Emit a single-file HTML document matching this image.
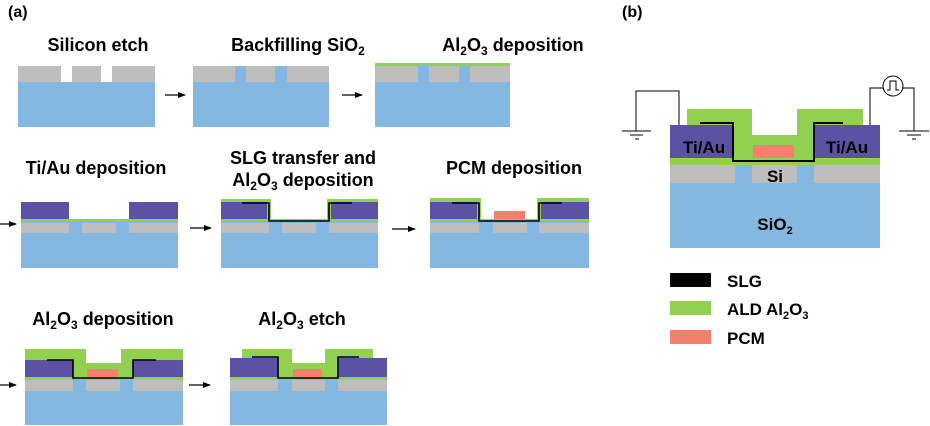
<!DOCTYPE html>
<html><head><meta charset="utf-8"><style>
html,body{margin:0;padding:0;background:#fff}
svg{display:block}
text{font-family:"Liberation Sans",Arial,sans-serif;font-weight:bold;fill:#000}
</style></head><body>
<svg width="930" height="426" viewBox="0 0 930 426" xmlns="http://www.w3.org/2000/svg">
<defs><marker id="ar" markerWidth="8" markerHeight="6" refX="7" refY="3" orient="auto" markerUnits="userSpaceOnUse"><path d="M0,0 L8,3 L0,6 z" fill="#000"/></marker></defs>
<g font-size="18">
<text x="8" y="17" font-size="16">(a)</text>
<text x="622" y="17" font-size="16">(b)</text>
<text x="98" y="51" text-anchor="middle">Silicon etch</text>
<text x="298" y="51" text-anchor="middle">Backfilling SiO<tspan font-size="12" dy="4">2</tspan></text>
<text x="513" y="51" text-anchor="middle">Al<tspan font-size="12" dy="4">2</tspan><tspan dy="-4">O</tspan><tspan font-size="12" dy="4">3</tspan><tspan dy="-4"> deposition</tspan></text>
<text x="96" y="174" text-anchor="middle">Ti/Au deposition</text>
<text x="303" y="164" text-anchor="middle">SLG transfer and</text>
<text x="303" y="186" text-anchor="middle">Al<tspan font-size="12" dy="4">2</tspan><tspan dy="-4">O</tspan><tspan font-size="12" dy="4">3</tspan><tspan dy="-4"> deposition</tspan></text>
<text x="514" y="174" text-anchor="middle">PCM deposition</text>
<text x="103" y="325" text-anchor="middle">Al<tspan font-size="12" dy="4">2</tspan><tspan dy="-4">O</tspan><tspan font-size="12" dy="4">3</tspan><tspan dy="-4"> deposition</tspan></text>
<text x="302" y="325" text-anchor="middle">Al<tspan font-size="12" dy="4">2</tspan><tspan dy="-4">O</tspan><tspan font-size="12" dy="4">3</tspan><tspan dy="-4"> etch</tspan></text>
</g>
<g stroke="#000" stroke-width="1.2">
<line x1="165" y1="95" x2="185" y2="95" marker-end="url(#ar)"/>
<line x1="342" y1="95" x2="362" y2="95" marker-end="url(#ar)"/>
<line x1="0" y1="224" x2="16" y2="224" marker-end="url(#ar)"/>
<line x1="190" y1="228" x2="211" y2="228" marker-end="url(#ar)"/>
<line x1="392" y1="229" x2="415" y2="229" marker-end="url(#ar)"/>
<line x1="0" y1="385" x2="16" y2="385" marker-end="url(#ar)"/>
<line x1="189" y1="385" x2="210" y2="385" marker-end="url(#ar)"/>
</g>
<rect x="18" y="82" width="137" height="45" fill="#84b8e2"/>
<rect x="18" y="66" width="43" height="16" fill="#bebebe"/>
<rect x="72" y="66" width="29" height="16" fill="#bebebe"/>
<rect x="112" y="66" width="43" height="16" fill="#bebebe"/>
<rect x="193" y="66" width="136" height="61" fill="#84b8e2"/>
<rect x="193" y="66" width="42" height="16" fill="#bebebe"/>
<rect x="246" y="66" width="29" height="16" fill="#bebebe"/>
<rect x="287" y="66" width="42" height="16" fill="#bebebe"/>
<rect x="375" y="66" width="135" height="61" fill="#84b8e2"/>
<rect x="375" y="66" width="43" height="16" fill="#bebebe"/>
<rect x="429" y="66" width="30" height="16" fill="#bebebe"/>
<rect x="470" y="66" width="40" height="16" fill="#bebebe"/>
<rect x="375" y="63" width="135" height="3" fill="#92d050"/>
<rect x="21" y="222" width="157" height="46" fill="#84b8e2"/>
<rect x="21" y="223" width="48" height="10" fill="#bebebe"/>
<rect x="82" y="223" width="34" height="10" fill="#bebebe"/>
<rect x="129" y="223" width="49" height="10" fill="#bebebe"/>
<rect x="21" y="219" width="157" height="3" fill="#92d050"/>
<rect x="21" y="202" width="48" height="17" fill="#5b52a3"/>
<rect x="129" y="202" width="49" height="17" fill="#5b52a3"/>
<rect x="221" y="222" width="157" height="46" fill="#84b8e2"/>
<rect x="221" y="223" width="48" height="10" fill="#bebebe"/>
<rect x="282" y="223" width="34" height="10" fill="#bebebe"/>
<rect x="329" y="223" width="49" height="10" fill="#bebebe"/>
<rect x="221" y="219" width="157" height="3" fill="#92d050"/>
<rect x="221" y="202" width="48" height="17" fill="#5b52a3"/>
<rect x="329" y="202" width="49" height="17" fill="#5b52a3"/>
<path d="M221,199 H271 V219 H327 V199 H378 V202 H331 V222 H267 V202 H221 Z" fill="#92d050"/>
<path d="M242,203 H269 V221 H329 V203 H352" fill="none" stroke="#000" stroke-width="1.6"/>
<rect x="430" y="222" width="159" height="46" fill="#84b8e2"/>
<rect x="430" y="223" width="49" height="10" fill="#bebebe"/>
<rect x="493" y="223" width="34" height="10" fill="#bebebe"/>
<rect x="539" y="223" width="50" height="10" fill="#bebebe"/>
<rect x="430" y="219" width="159" height="3" fill="#92d050"/>
<rect x="430" y="202" width="49" height="17" fill="#5b52a3"/>
<rect x="539" y="202" width="50" height="17" fill="#5b52a3"/>
<path d="M430,198 H481 V219 H537 V198 H589 V202 H541 V222 H477 V202 H430 Z" fill="#92d050"/>
<rect x="494" y="211" width="31" height="8" fill="#f4806c"/>
<path d="M452,203 H479 V221 H539 V203 H562" fill="none" stroke="#000" stroke-width="1.6"/>
<rect x="25" y="380" width="158" height="45" fill="#84b8e2"/>
<rect x="25" y="380" width="48" height="11" fill="#bebebe"/>
<rect x="86" y="380" width="34" height="11" fill="#bebebe"/>
<rect x="133" y="380" width="50" height="11" fill="#bebebe"/>
<rect x="25" y="377" width="158" height="3" fill="#92d050"/>
<rect x="25" y="360" width="48" height="17" fill="#5b52a3"/>
<rect x="133" y="360" width="50" height="17" fill="#5b52a3"/>
<path d="M25,349 H86 V363 H121 V349 H183 V360 H133 V377 H73 V360 H25 Z" fill="#92d050"/>
<rect x="87" y="369" width="31" height="8" fill="#f4806c"/>
<path d="M47,360 H73 V378 H133 V360 H156" fill="none" stroke="#000" stroke-width="1.6"/>
<rect x="230" y="380" width="157" height="45" fill="#84b8e2"/>
<rect x="230" y="380" width="48" height="11" fill="#bebebe"/>
<rect x="292" y="380" width="33" height="11" fill="#bebebe"/>
<rect x="338" y="380" width="49" height="11" fill="#bebebe"/>
<rect x="230" y="377" width="157" height="3" fill="#92d050"/>
<rect x="230" y="358" width="48" height="19" fill="#5b52a3"/>
<rect x="338" y="358" width="49" height="19" fill="#5b52a3"/>
<path d="M242,349 H292 V363 H325 V349 H373 V358 H338 V377 H278 V358 H242 Z" fill="#92d050"/>
<rect x="293" y="369" width="29" height="8" fill="#f4806c"/>
<path d="M252,357 H278 V378 H338 V357 H359" fill="none" stroke="#000" stroke-width="1.6"/>
<rect x="670" y="165" width="210" height="83" fill="#84b8e2"/>
<rect x="670" y="165" width="65" height="18" fill="#bebebe"/>
<rect x="752" y="165" width="45" height="18" fill="#bebebe"/>
<rect x="814" y="165" width="66" height="18" fill="#bebebe"/>
<rect x="670" y="158" width="210" height="7" fill="#92d050"/>
<rect x="670" y="125" width="63" height="33" fill="#5b52a3"/>
<rect x="814" y="125" width="66" height="33" fill="#5b52a3"/>
<path d="M687,109 H752 V135 H797 V109 H863 V125 H814 V158 H733 V125 H687 Z" fill="#92d050"/>
<rect x="753" y="145" width="41" height="13" fill="#f4806c"/>
<path d="M700,123 H733 V161 H814 V123 H843" fill="none" stroke="#000" stroke-width="2"/>
<text x="704" y="153" text-anchor="middle" font-size="17">Ti/Au</text>
<text x="847" y="153" text-anchor="middle" font-size="17">Ti/Au</text>
<text x="775" y="182" text-anchor="middle" font-size="17">Si</text>
<text x="775" y="230" text-anchor="middle" font-size="17">SiO<tspan font-size="11" dy="4">2</tspan></text>
<g stroke="#000" stroke-width="1" fill="none">
<path d="M679,125 V91 H636 V131"/>
<line x1="622" y1="131" x2="651" y2="131"/>
<line x1="630" y1="135" x2="643" y2="135"/>
<line x1="635" y1="139" x2="639" y2="139"/>
<path d="M870,125 V88 H883"/>
<circle cx="893" cy="86" r="10"/>
<path d="M903,88 H914 V131"/>
<line x1="899" y1="131" x2="929" y2="131"/>
<line x1="907" y1="135" x2="921" y2="135"/>
<line x1="912" y1="139" x2="916" y2="139"/>
<path d="M887,90 H890 V81 H896 V90 H899"/>
</g>
<rect x="670" y="273" width="41" height="14" fill="#000"/>
<rect x="670" y="301" width="41" height="14" fill="#92d050"/>
<rect x="670" y="330" width="41" height="14" fill="#f4806c"/>
<text x="727" y="287" font-size="17">SLG</text>
<text x="727" y="315" font-size="17">ALD Al<tspan font-size="11" dy="4">2</tspan><tspan dy="-4">O</tspan><tspan font-size="11" dy="4">3</tspan></text>
<text x="727" y="344" font-size="17">PCM</text>
</svg>
</body></html>
